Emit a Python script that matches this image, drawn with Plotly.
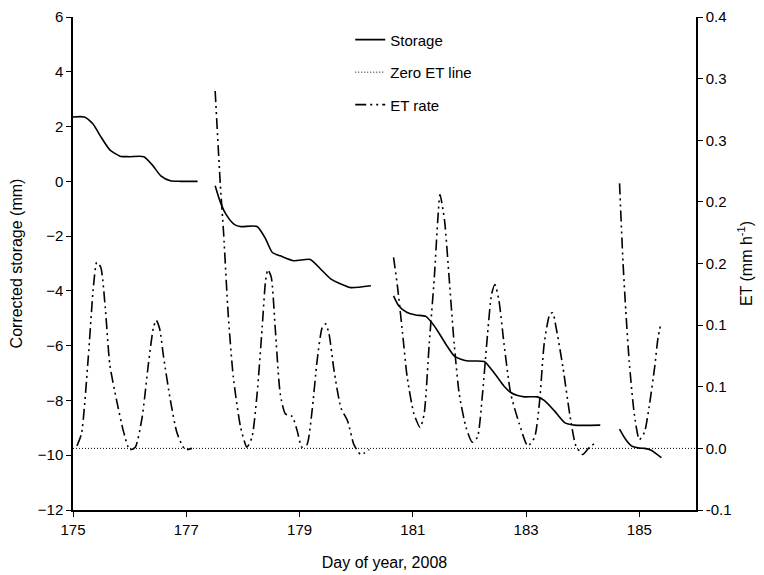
import plotly.graph_objects as go

# ---------------- data ----------------
# Corrected storage (mm), four measurement periods
storage_day_1 = [175.0, 175.2, 175.35, 175.5, 175.65, 175.83, 176.0, 176.25, 176.4, 176.55, 176.72, 176.9, 177.2]
storage_val_1 = [2.35, 2.35, 2.1, 1.6, 1.15, 0.92, 0.9, 0.9, 0.6, 0.2, 0.02, 0.0, 0.0]

storage_day_2 = [177.51, 177.6, 177.7, 177.84, 177.95, 178.25, 178.4, 178.52, 178.66, 178.9,
                 179.19, 179.37, 179.55, 179.73, 179.9, 180.26]
storage_val_2 = [-0.16, -0.75, -1.2, -1.56, -1.65, -1.65, -2.1, -2.6, -2.72, -2.9,
                 -2.85, -3.2, -3.56, -3.75, -3.88, -3.81]

storage_day_3 = [180.66, 180.75, 180.9, 181.05, 181.23, 181.35, 181.45, 181.6, 181.73, 181.85,
                 181.97, 182.26, 182.4, 182.5, 182.62, 182.73, 182.85, 182.97, 183.2, 183.32,
                 183.5, 183.68, 183.85, 184.31]
storage_val_3 = [-4.18, -4.54, -4.79, -4.88, -4.93, -5.2, -5.5, -6.0, -6.37, -6.5,
                 -6.56, -6.58, -6.9, -7.17, -7.5, -7.71, -7.82, -7.87, -7.87, -8.0,
                 -8.38, -8.81, -8.9, -8.9]

storage_day_4 = [184.65, 184.75, 184.86, 185.0, 185.09, 185.21, 185.3, 185.39]
storage_val_4 = [-9.05, -9.4, -9.66, -9.74, -9.75, -9.82, -9.95, -10.09]

# ET rate (mm h-1)
et_day_1 = [175.07, 175.15, 175.27, 175.36, 175.42, 175.49, 175.57, 175.65, 175.77, 175.89, 176.0,
            176.1, 176.22, 176.33, 176.42, 176.47, 176.53, 176.6, 176.72, 176.84, 176.98, 177.1]
et_val_1 = [0.002, 0.012, 0.074, 0.131, 0.151, 0.147, 0.114, 0.068, 0.039, 0.014, -0.001,
            0.001, 0.025, 0.068, 0.098, 0.104, 0.097, 0.074, 0.039, 0.012, -0.001, 0.0]

et_day_2 = [177.51, 177.6, 177.66, 177.74, 177.83, 177.96, 178.07, 178.16, 178.25, 178.34, 178.4,
            178.44, 178.5, 178.57, 178.66, 178.75, 178.87, 178.96, 179.04, 179.13, 179.22, 179.31,
            179.4, 179.46, 179.52, 179.61, 179.73, 179.85, 179.96, 180.08, 180.23]
et_val_2 = [0.29, 0.215, 0.174, 0.109, 0.058, 0.017, 0.001, 0.009, 0.044, 0.098, 0.136,
            0.145, 0.139, 0.098, 0.044, 0.028, 0.026, 0.014, 0.001, 0.003, 0.03, 0.071,
            0.098, 0.101, 0.093, 0.063, 0.033, 0.022, 0.003, -0.005, -0.001]

et_day_3 = [180.66, 180.73, 180.82, 180.9, 181.02, 181.13, 181.2, 181.29, 181.38, 181.44, 181.48,
            181.56, 181.64, 181.73, 181.82, 181.94, 182.05, 182.14, 182.23, 182.32, 182.39, 182.45,
            182.52, 182.61, 182.73, 182.88, 183.03, 183.15, 183.24, 183.32, 183.42, 183.47, 183.53,
            183.65, 183.77, 183.88, 184.0, 184.12, 184.21]
et_val_3 = [0.155, 0.131, 0.093, 0.058, 0.028, 0.017, 0.028, 0.085, 0.139, 0.185, 0.206,
            0.185, 0.139, 0.085, 0.044, 0.017, 0.005, 0.009, 0.044, 0.093, 0.125, 0.133,
            0.12, 0.085, 0.044, 0.02, 0.002, 0.009, 0.039, 0.085, 0.109, 0.11, 0.098,
            0.066, 0.028, 0.002, -0.005, 0.001, 0.004]

et_day_4 = [184.65, 184.71, 184.76, 184.82, 184.91, 185.0, 185.09, 185.18, 185.27, 185.33, 185.38]
et_val_4 = [0.215, 0.152, 0.112, 0.071, 0.028, 0.007, 0.013, 0.036, 0.066, 0.09, 0.101]

zero_et_day = [175, 186]
zero_et_val = [0.0, 0.0]

x_ticks = [175, 177, 179, 181, 183, 185]
left_ticks = [6, 4, 2, 0, -2, -4, -6, -8, -10, -12]
right_tickvals = [-0.05, 0.0, 0.05, 0.10, 0.15, 0.20, 0.25, 0.30, 0.35]
right_ticktext = ["-0.1", "0.0", "0.1", "0.1", "0.2", "0.2", "0.3", "0.3", "0.4"]


def join(*pairs):
    xs, ys = [], []
    for i, (a, b) in enumerate(pairs):
        if i:
            xs.append(None)
            ys.append(None)
        xs += a
        ys += b
    return xs, ys


sx, sy = join((storage_day_1, storage_val_1), (storage_day_2, storage_val_2),
              (storage_day_3, storage_val_3), (storage_day_4, storage_val_4))
ex, ey = join((et_day_1, et_val_1), (et_day_2, et_val_2),
              (et_day_3, et_val_3), (et_day_4, et_val_4))

FONT = "Liberation Sans, Arial, sans-serif"

fig = go.Figure()
fig.add_trace(go.Scatter(x=sx, y=sy, mode="lines", name="Storage", legendgroup="a",
                         line=dict(color="black", width=1.6, shape="spline", smoothing=0.6),
                         connectgaps=False))
fig.add_trace(go.Scatter(x=zero_et_day, y=zero_et_val, mode="lines", name="Zero ET line",
                         legendgroup="b", yaxis="y2",
                         line=dict(color="black", width=1, dash="1px,2px")))
fig.add_trace(go.Scatter(x=ex, y=ey, mode="lines", name="ET rate", legendgroup="c", yaxis="y2",
                         line=dict(color="black", width=1.6, dash="11px,4px,2px,4px,2px,4px",
                                   shape="spline", smoothing=0.6),
                         connectgaps=False))

axis_common = dict(showline=True, linecolor="black", linewidth=1.5, ticks="outside",
                   ticklen=5, tickcolor="black", tickwidth=1, showgrid=False, zeroline=False,
                   ticklabeloverflow="allow", automargin=False,
                   tickfont=dict(family=FONT, size=15, color="black"))

fig.update_layout(
    width=756, height=567,
    margin=dict(l=65, r=68, t=9, b=65),
    paper_bgcolor="white", plot_bgcolor="white",
    font=dict(family=FONT, size=15, color="black"),
    xaxis=dict(range=[175, 186], tickvals=x_ticks, **axis_common,
               title=dict(text="Day of year, 2008", font=dict(family=FONT, size=16), standoff=20)),
    yaxis=dict(range=[-12, 6], tickvals=left_ticks, **axis_common,
               title=dict(text="Corrected storage (mm)", font=dict(family=FONT, size=16), standoff=12)),
    yaxis2=dict(range=[-0.05, 0.35], overlaying="y", side="right", tickvals=right_tickvals,
                ticktext=right_ticktext, **axis_common,
                title=dict(text="ET (mm h<sup>-1</sup>)", font=dict(family=FONT, size=16), standoff=10)),
    showlegend=True,
    legend=dict(x=0.445, y=0.987, xanchor="left", yanchor="top", bgcolor="rgba(0,0,0,0)",
                font=dict(family=FONT, size=15, color="black"), tracegroupgap=10,
                borderwidth=0),
)

fig.write_html("out.html")
